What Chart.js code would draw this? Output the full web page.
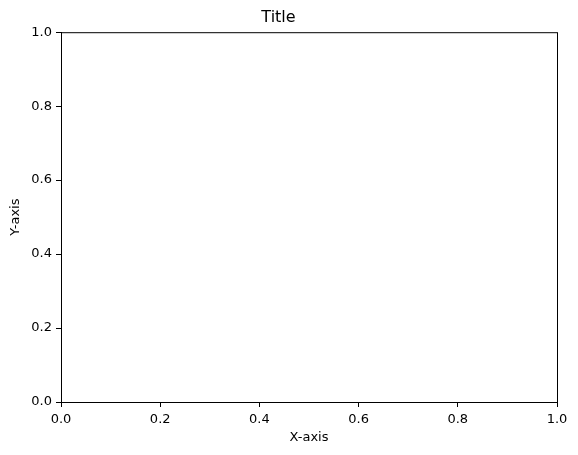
<!DOCTYPE html>
<html>
<head>
<meta charset="utf-8">
<script src="https://cdn.jsdelivr.net/npm/chart.js@4"></script>
<style>
  html, body { margin: 0; padding: 0; background: #fff; }
  #wrap { width: 578px; height: 455px; }
</style>
</head>
<body>
<div id="wrap"><canvas id="chart" width="578" height="455"></canvas></div>
<script>
// nothing is plotted in the reference, only the empty axes
const points = []
const xRange = [0, 1]
const yRange = [0, 1]
const tickStep = 0.2
const chartTitle = 'Title'
const xLabel = 'X-axis'
const yLabel = 'Y-axis'

Chart.defaults.font.family = "'DejaVu Sans', sans-serif"
Chart.defaults.color = '#000'

// matplotlib draws a full box round the plot area
const frame = {
  id: 'frame',
  afterDraw(chart) {
    const { ctx, chartArea } = chart
    ctx.save()
    ctx.strokeStyle = '#000'
    ctx.lineWidth = 1
    ctx.strokeRect(chartArea.left + 0.5, chartArea.top + 0.5, chartArea.width, chartArea.height)
    ctx.restore()
  }
}

const tickFmt = v => Number(v).toFixed(1)

let emptyChart = new Chart(document.getElementById('chart').getContext('2d'), {
  type: 'scatter',
  data: {
    datasets: [{ data: points, borderColor: '#1f77b4', backgroundColor: '#1f77b4' }]
  },
  options: {
    responsive: false,
    animation: false,
    layout: { padding: { top: 0, right: 21, left: 0, bottom: 0 } },
    plugins: {
      legend: { display: false },
      tooltip: { enabled: false },
      title: {
        display: true,
        text: chartTitle,
        font: { size: 16, weight: 'normal' },
        padding: { top: 8, bottom: 5 }
      }
    },
    scales: {
      x: {
        type: 'linear',
        min: xRange[0],
        max: xRange[1],
        afterFit: s => { s.height = 53 },
        border: { display: true, color: '#000' },
        grid: { drawOnChartArea: false, drawTicks: true, tickLength: 5, color: '#000' },
        ticks: { stepSize: tickStep, callback: tickFmt, font: { size: 13 }, padding: 5, maxRotation: 0 },
        title: { display: true, text: xLabel, font: { size: 13 }, padding: { top: 2, bottom: 10 } }
      },
      y: {
        type: 'linear',
        min: yRange[0],
        max: yRange[1],
        afterFit: s => { s.width = 61 },
        border: { display: true, color: '#000' },
        grid: { drawOnChartArea: false, drawTicks: true, tickLength: 5, color: '#000' },
        ticks: { stepSize: tickStep, callback: tickFmt, font: { size: 13 }, padding: 4 },
        title: { display: true, text: yLabel, font: { size: 13 }, padding: { top: 8, bottom: 4 } }
      }
    }
  },
  plugins: [frame]
})
</script>
</body>
</html>
